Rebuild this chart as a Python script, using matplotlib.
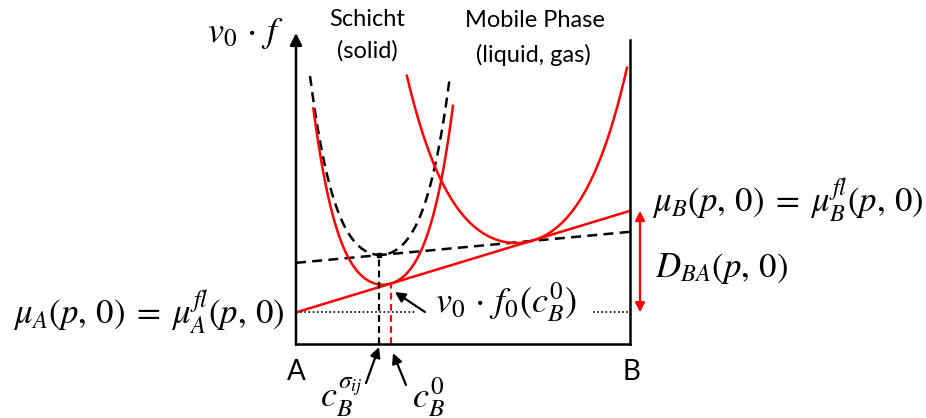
import numpy as np
import matplotlib
matplotlib.use("Agg")
import matplotlib.pyplot as plt

plt.rcParams["mathtext.fontset"] = "stix"
plt.rcParams["font.family"] = ["Lato", "DejaVu Sans"]

# composition axis: 0 = pure A, 1 = pure B
x_ends = [0.0, 1.0]
# common tangent of layer and fluid: chemical potentials at A and B
tangent_mu = [1.04, 4.38]
# tangent to the strained layer curve
layer_tangent_mu = [2.67, 3.69]

# free-energy curves: centre, minimum, c2, c4, left end, right end
solid_curve = [0.2605, 1.95, 66.0, 1550.0, 0.052, 0.470]
solid_sigma_curve = [0.2515, 2.93, 66.0, 1550.0, 0.042, 0.461]
fluid_curve = [0.6587, 3.32, 31.7, 186.0, 0.332, 0.991]

# marked compositions
c_sigma = 0.2485
c_zero = 0.285

RED = "#ff0000"
LW = 1.8


def curve(params, n=400):
    x0, m, c2, c4, xa, xb = params
    x = np.linspace(xa, xb, n)
    d = x - x0
    return x, m + c2 * d**2 + c4 * d**4


def line_at(ends, x):
    return ends[0] + (ends[1] - ends[0]) * x


fig = plt.figure(figsize=(9.26, 4.18), dpi=100)
ax = fig.add_axes([296 / 926, 74 / 418, 334 / 926, 304 / 418])
ax.set_xlim(0, 1)
ax.set_ylim(0, 10)
ax.set_xticks([])
ax.set_yticks([])
ax.spines["top"].set_visible(False)
ax.spines["left"].set_visible(False)
for s in ("bottom", "right"):
    ax.spines[s].set_linewidth(LW)
    ax.spines[s].set_capstyle("projecting")

# energy axis arrow
ax.annotate("", xy=(0, 10.23), xytext=(0, -0.03),
            arrowprops=dict(arrowstyle="-|>", lw=LW, color="black",
                            mutation_scale=18, shrinkA=0, shrinkB=0),
            annotation_clip=False)

# tangent lines
ax.plot(x_ends, layer_tangent_mu, color="black", lw=LW,
        linestyle=(0, (4, 2.5)), clip_on=False)
ax.plot(x_ends, tangent_mu, color=RED, lw=LW, clip_on=False)

# free-energy curves
xs, ys = curve(solid_sigma_curve)
ax.plot(xs, ys, color="black", lw=LW, linestyle=(0, (4, 2.5)), clip_on=False)
xs, ys = curve(solid_curve)
ax.plot(xs, ys, color=RED, lw=LW, clip_on=False)
xs, ys = curve(fluid_curve)
ax.plot(xs, ys, color=RED, lw=LW, clip_on=False)

# composition markers
top_sigma = line_at(layer_tangent_mu, c_sigma)
ax.plot([c_sigma, c_sigma], [0, top_sigma], color="black", lw=1.6,
        linestyle=(0, (3, 2)))
ax.plot([c_sigma], [top_sigma], marker="s", ms=3.5, color="black")
top_zero = line_at(tangent_mu, c_zero)
ax.plot([c_zero, c_zero], [0, top_zero], color=RED, lw=1.6,
        linestyle=(0, (3, 2)))

# reference level mu_A
ax.plot([0, 0.356], [tangent_mu[0]] * 2, color="black", lw=1.2,
        linestyle=(0, (1, 1.5)))
ax.plot([0.889, 1.0], [tangent_mu[0]] * 2, color="black", lw=1.2,
        linestyle=(0, (1, 1.5)))

# driving force D_BA
ax.annotate("", xy=(1.030, tangent_mu[1]), xytext=(1.030, tangent_mu[0]),
            arrowprops=dict(arrowstyle="<|-|>", lw=1.6, color=RED,
                            mutation_scale=14, shrinkA=0, shrinkB=0),
            annotation_clip=False)

arrow_kw = dict(arrowstyle="-|>", lw=1.6, color="black", mutation_scale=15,
                shrinkA=0, shrinkB=0)
ax.annotate("", xy=(0.296, 1.711), xytext=(0.386, 1.053),
            arrowprops=arrow_kw, annotation_clip=False)
ax.annotate("", xy=(c_sigma, -0.10), xytext=(0.2096, -1.283),
            arrowprops=arrow_kw, annotation_clip=False)
ax.annotate("", xy=(0.2904, -0.30), xytext=(0.3293, -1.349),
            arrowprops=arrow_kw, annotation_clip=False)

MS = 25
tk = dict(clip_on=False, va="baseline")
ax.text(-0.266, 9.93, r"$v_0\,\cdot\, f$", fontsize=MS + 1, ha="left", **tk)
ax.text(-0.036, 0.658, r"$\mu_A(p,\,0)\;=\;\mu_A^{fl}(p,\,0)$", fontsize=MS,
        ha="right", **tk)
ax.text(1.066, 4.342, r"$\mu_B(p,\,0)\;=\;\mu_B^{fl}(p,\,0)$", fontsize=MS,
        ha="left", **tk)
ax.text(1.075, 2.204, r"$D_{BA}(p,\,0)$", fontsize=MS, ha="left", **tk)
ax.text(0.416, 1.053, r"$v_0\,\cdot\, f_0(c_B^0)$", fontsize=MS + 1,
        ha="left", **tk)
ax.text(0.0719, -2.072, r"$c_B^{\sigma_{ij}}$", fontsize=MS + 1, ha="left", **tk)
ax.text(0.347, -2.072, r"$c_B^0$", fontsize=MS + 1, ha="left", **tk)

LS = 17
ax.text(0.2141, 10.46, "Schicht", fontsize=LS, ha="center", **tk)
ax.text(0.2126, 9.41, "(solid)", fontsize=LS, ha="center", **tk)
ax.text(0.7156, 10.43, "Mobile Phase", fontsize=LS, ha="center", **tk)
ax.text(0.7096, 9.28, "(liquid, gas)", fontsize=LS, ha="center", **tk)
ax.text(0.0, -1.184, "A", fontsize=20, ha="center", **tk)
ax.text(1.003, -1.184, "B", fontsize=20, ha="center", **tk)

fig.savefig("out.png", dpi=100)
